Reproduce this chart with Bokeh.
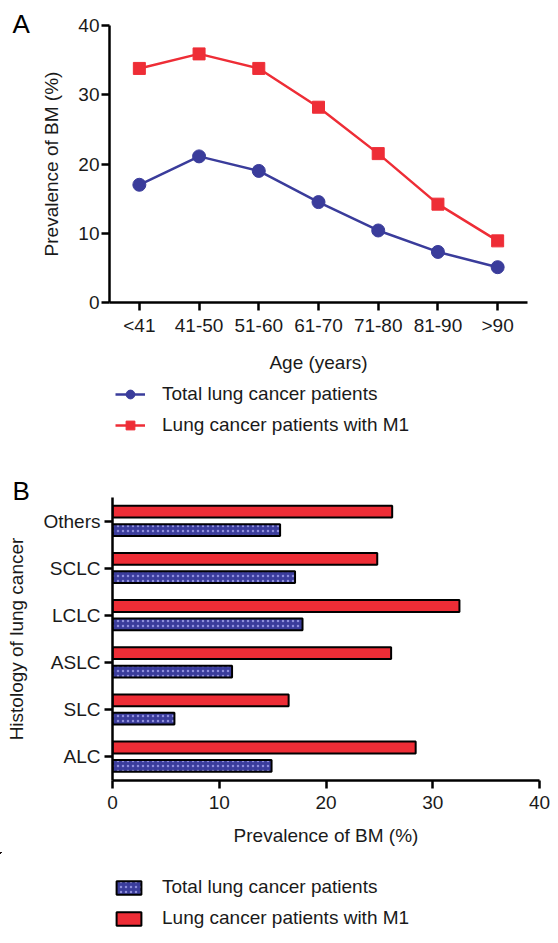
from bokeh.plotting import figure
from bokeh.models import (FactorRange, Range1d, Legend, LegendItem, Title,
                          ColumnDataSource, FixedTicker)
from bokeh.layouts import column
from bokeh.embed import file_html
from bokeh.resources import INLINE
from bokeh.transform import dodge

# ---- data ----
ages = ["<41", "41-50", "51-60", "61-70", "71-80", "81-90", ">90"]
total_by_age = [17.0, 21.1, 19.0, 14.5, 10.4, 7.3, 5.1]
m1_by_age = [33.8, 35.9, 33.8, 28.2, 21.5, 14.2, 8.9]

histology = ["ALC", "SLC", "ASLC", "LCLC", "SCLC", "Others"]
total_by_hist = [14.9, 5.8, 11.2, 17.8, 17.1, 15.7]
m1_by_hist = [28.4, 16.5, 26.1, 32.5, 24.8, 26.2]

prev_ticks = [0, 10, 20, 30, 40]
series_names = ["Total lung cancer patients", "Lung cancer patients with M1"]

FONT = "Liberation Sans"
BLUE = "#3a3c9b"
RED = "#ee2d36"
TXT = "#1a1a1a"
FS = "19px"


def no_align(f):
    try:
        f.frame_align = False
    except Exception:
        pass
    return f


def style_axis(ax, label_standoff, axis_label_standoff):
    ax.axis_line_width = 2.5
    ax.axis_line_color = "black"
    ax.major_tick_line_width = 2.5
    ax.major_tick_line_color = "black"
    ax.major_tick_out = 8
    ax.major_tick_in = 0
    ax.minor_tick_line_color = None
    ax.major_label_text_font = FONT
    ax.major_label_text_font_size = FS
    ax.major_label_text_color = TXT
    ax.major_label_standoff = label_standoff
    ax.axis_label_text_font = FONT
    ax.axis_label_text_font_size = FS
    ax.axis_label_text_font_style = "normal"
    ax.axis_label_text_color = TXT
    ax.axis_label_standoff = axis_label_standoff


def legend_figure(height, x_range, y_range):
    # a figure that only shows a legend: its series lie outside the visible ranges
    f = figure(width=558, height=height, x_range=x_range, y_range=y_range,
               x_axis_location=None, y_axis_location=None, min_border=0,
               output_backend="svg", toolbar_location=None)
    f.outline_line_color = None
    f.grid.visible = False
    return no_align(f)


def make_legend(items, loc, gw, gh, spacing, standoff):
    return Legend(items=items, location=loc, orientation="vertical", padding=0, margin=0,
                  glyph_width=gw, glyph_height=gh, label_height=gh, spacing=spacing,
                  label_standoff=standoff, border_line_color=None,
                  background_fill_alpha=0, label_text_font=FONT,
                  label_text_font_size=FS, label_text_color=TXT)


# ---- panel A ----
pa = no_align(figure(width=558, height=375, x_range=FactorRange(factors=ages),
                     y_range=Range1d(0, 40), output_backend="svg", toolbar_location=None,
                     min_border_left=109, min_border_right=31, min_border_top=25,
                     min_border_bottom=73))
pa.outline_line_color = None
pa.grid.grid_line_color = None

pa.line(ages, total_by_age, line_color=BLUE, line_width=2.5)
pa.scatter(ages, total_by_age, marker="circle", size=13, fill_color=BLUE, line_color=BLUE)
pa.line(ages, m1_by_age, line_color=RED, line_width=2.5)
pa.scatter(ages, m1_by_age, marker="square", size=12, fill_color=RED, line_color=RED)

pa.yaxis.ticker = FixedTicker(ticks=prev_ticks)
pa.yaxis.axis_label = "Prevalence of BM (%)"
pa.xaxis.axis_label = "Age (years)"
style_axis(pa.xaxis[0], 4, 13)
style_axis(pa.yaxis[0], 2, 13)

pa.add_layout(Title(text="A", align="left", offset=-97, standoff=-27,
                    vertical_align="bottom", text_font=FONT, text_font_size="26px",
                    text_font_style="normal", text_color="black"), "above")

# legend of panel A
la = legend_figure(73, FactorRange(factors=ages), Range1d(100, 101))
la1 = la.line(ages, total_by_age, line_color=BLUE, line_width=2.5)
la1s = la.scatter(ages, total_by_age, marker="circle", size=13, fill_color=BLUE,
                  line_color=BLUE)
la2 = la.line(ages, m1_by_age, line_color=RED, line_width=2.5)
la2s = la.scatter(ages, m1_by_age, marker="square", size=12, fill_color=RED,
                  line_color=RED)
la.add_layout(make_legend([LegendItem(label=series_names[0], renderers=[la1, la1s]),
                           LegendItem(label=series_names[1], renderers=[la2, la2s])],
                          (115, 12), 30, 22, 9, 17), "center")

# ---- panel B ----
src = ColumnDataSource(dict(hist=histology, total=total_by_hist, m1=m1_by_hist))

pb = no_align(figure(width=558, height=404, y_range=FactorRange(factors=histology),
                     x_range=Range1d(0, 40), output_backend="svg", toolbar_location=None,
                     min_border_left=112, min_border_right=19, min_border_top=49,
                     min_border_bottom=72))
pb.outline_line_color = None
pb.grid.grid_line_color = None

pb.hbar(y=dodge("hist", 0.2, range=pb.y_range), left=0, right="m1",
        height=0.25, source=src, fill_color=RED, line_color="black", line_width=2)
pb.hbar(y=dodge("hist", -0.19, range=pb.y_range), left=0, right="total",
        height=0.25, source=src, fill_color=BLUE, line_color="black",
        line_width=2, hatch_pattern="dot", hatch_color="#8f8fdc",
        hatch_scale=5, hatch_weight=1)

pb.xaxis.ticker = FixedTicker(ticks=prev_ticks)
pb.xaxis.axis_label = "Prevalence of BM (%)"
pb.yaxis.axis_label = "Histology of lung cancer"
style_axis(pb.xaxis[0], 7, 13)
style_axis(pb.yaxis[0], 4, 13)

pb.add_layout(Title(text="B", align="left", offset=-100, standoff=-17,
                    vertical_align="bottom", text_font=FONT, text_font_size="26px",
                    text_font_style="normal", text_color="black"), "above")

# legend of panel B (its bars are placed far outside the visible ranges)
lb = legend_figure(91, Range1d(100, 101), FactorRange(factors=histology))
lb1 = lb.hbar(y=dodge("hist", 30, range=lb.y_range), right="total", left=0,
              height=0.25, source=src, fill_color=BLUE, line_color="black",
              line_width=2, hatch_pattern="dot", hatch_color="#8f8fdc",
              hatch_scale=5, hatch_weight=1)
lb2 = lb.hbar(y=dodge("hist", 30, range=lb.y_range), right="m1", left=0,
              height=0.25, source=src, fill_color=RED, line_color="black",
              line_width=2)
lb.add_layout(make_legend([LegendItem(label=series_names[0], renderers=[lb1]),
                           LegendItem(label=series_names[1], renderers=[lb2])],
                          (113, 14), 31, 17, 9, 18), "center")

layout = column(pa, la, pb, lb)
open("out.html", "w").write(file_html(layout, INLINE))
